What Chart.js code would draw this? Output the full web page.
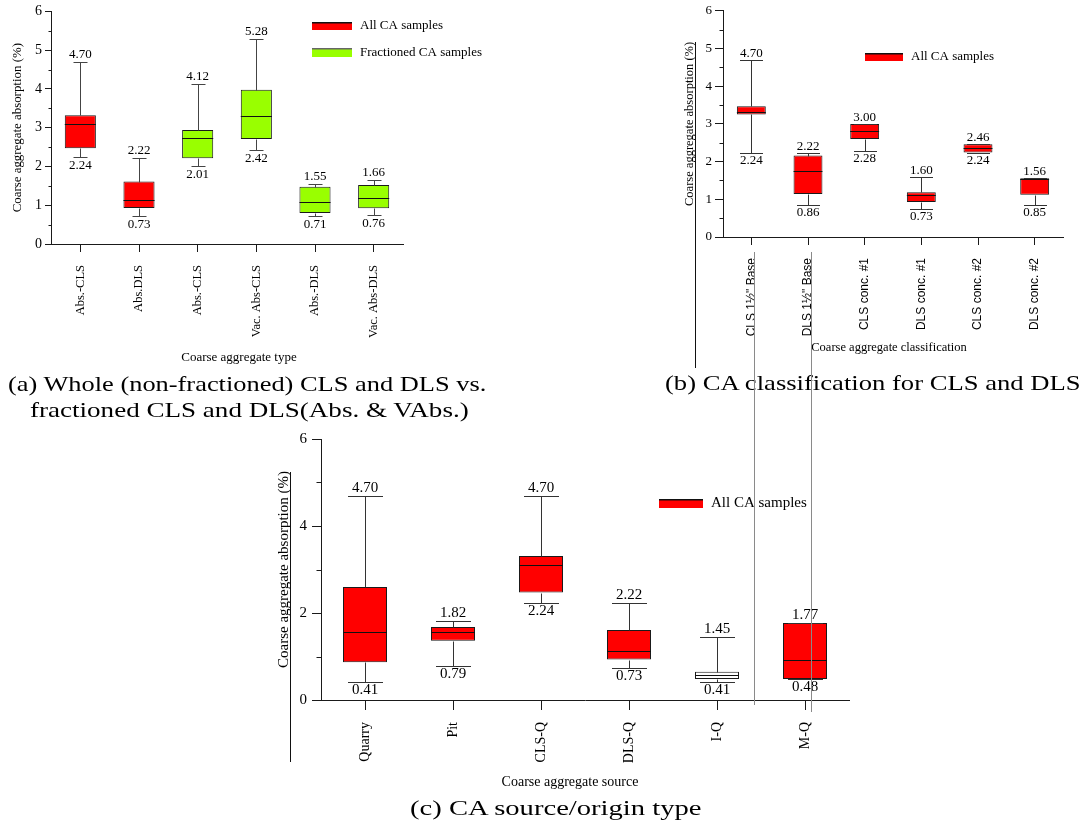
<!DOCTYPE html>
<html>
<head>
<meta charset="utf-8">
<script src="https://cdn.jsdelivr.net/npm/chart.js@4.4.1/dist/chart.umd.min.js"></script>
<style>
  html, body { margin: 0; padding: 0; background: #fff; }
  body { position: relative; width: 1086px; height: 824px; overflow: hidden;
         font-family: "Liberation Serif", "DejaVu Serif", serif; color: #000; }
  .panel { position: absolute; }
  .caption { position: absolute; font-size: 22px; line-height: 1; white-space: nowrap; transform-origin: 0 50%; }
  .rule { position: absolute; width: 1px; }
</style>
</head>
<body>
<canvas id="chartType" class="panel" width="520" height="372" style="left:0;top:0"></canvas>
<canvas id="chartClass" class="panel" width="426" height="372" style="left:660px;top:0"></canvas>
<canvas id="chartSource" class="panel" width="600" height="380" style="left:270px;top:425px"></canvas>

<div class="caption" style="left:8px;top:373px;transform:scaleX(1.2)">(a) Whole (non-fractioned) CLS and DLS vs.</div>
<div class="caption" style="left:30px;top:399px;transform:scaleX(1.23)">fractioned CLS and DLS(Abs. &amp; VAbs.)</div>
<div class="caption" style="left:665px;top:372px;transform:scaleX(1.21)">(b) CA classification for CLS and DLS</div>
<div class="caption" style="left:410px;top:797px;transform:scaleX(1.3)">(c) CA source/origin type</div>

<div class="rule" style="left:695px;top:42px;height:326px;background:#111"></div>
<div class="rule" style="left:290px;top:472px;height:290px;background:#111"></div>
<div class="rule" style="left:754px;top:252px;height:453px;background:#8a8a8a"></div>
<div class="rule" style="left:811px;top:252px;height:460px;background:#8a8a8a"></div>

<script>
// ---- (a) coarse aggregate type ----
const typeLabels = ['Abs.-CLS', 'Abs.DLS', 'Abs.-CLS', 'Vac. Abs-CLS', 'Abs.-DLS', 'Vac. Abs-DLS'];
const typeMin    = [2.24, 0.73, 2.01, 2.42, 0.71, 0.76];
const typeQ1     = [2.47, 0.93, 2.21, 2.71, 0.80, 0.92];
const typeMedian = [3.09, 1.13, 2.73, 3.30, 1.08, 1.19];
const typeQ3     = [3.32, 1.61, 2.94, 3.98, 1.48, 1.52];
const typeMax    = [4.70, 2.22, 4.12, 5.28, 1.55, 1.66];
const typeGroup  = ['All CA samples', 'All CA samples', 'Fractioned CA samples',
                    'Fractioned CA samples', 'Fractioned CA samples', 'Fractioned CA samples'];

// ---- (b) coarse aggregate classification ----
const classLabels = ['CLS 1½" Base', 'DLS 1½" Base', 'CLS conc. #1', 'DLS conc. #1', 'CLS conc. #2', 'DLS conc. #2'];
const classMin    = [2.24, 0.86, 2.28, 0.73, 2.24, 0.85];
const classQ1     = [3.25, 1.14, 2.60, 0.93, 2.24, 1.12];
const classMedian = [3.32, 1.76, 2.81, 1.12, 2.37, 1.55];
const classQ3     = [3.47, 2.16, 3.00, 1.19, 2.46, 1.56];
const classMax    = [4.70, 2.22, 3.00, 1.60, 2.46, 1.56];

// ---- (c) coarse aggregate source ----
const sourceLabels = ['Quarry', 'Pit', 'CLS-Q', 'DLS-Q', 'I-Q', 'M-Q'];
const sourceMin    = [0.41, 0.79, 2.24, 0.73, 0.41, 0.48];
const sourceQ1     = [0.87, 1.36, 2.47, 0.93, 0.48, 0.48];
const sourceMedian = [1.57, 1.56, 3.10, 1.13, 0.57, 0.93];
const sourceQ3     = [2.60, 1.68, 3.31, 1.61, 0.65, 1.77];
const sourceMax    = [4.70, 1.82, 4.70, 2.22, 1.45, 1.77];
const sourceFilled = [true, true, true, true, false, true];

const yTicks = [0, 1, 2, 3, 4, 5, 6];

const RED = '#ff0000';
const GREEN = '#99ff00';
const SERIF = '"Liberation Serif", "DejaVu Serif", serif';
const NARROW = '"Liberation Sans Narrow", "Liberation Sans", Arial, sans-serif';
const INK = '#1a1a1a';

// Whiskers, caps, median lines and min/max labels on top of the floating bars
function boxWhiskerPlugin(stats, style) {
  return {
    id: 'boxWhisker',
    afterDatasetsDraw(chart) {
      const ctx = chart.ctx;
      const yScale = chart.scales.y;
      const meta = chart.getDatasetMeta(0);
      const py = v => Math.round(yScale.getPixelForValue(v)) + 0.5;
      const seg = (x1, y1, x2, y2) => { ctx.beginPath(); ctx.moveTo(x1, y1); ctx.lineTo(x2, y2); ctx.stroke(); };
      ctx.save();
      ctx.lineWidth = 1;
      meta.data.forEach((bar, i) => {
        const xc = Math.round(bar.x) + 0.5;
        const hw = bar.width / 2;
        const cw = style.cap / 2;
        const yMax = py(stats.max[i]), yMin = py(stats.min[i]);
        ctx.strokeStyle = style.whisker;
        seg(xc, yMax, xc, py(stats.q3[i]));
        seg(xc, py(stats.q1[i]), xc, yMin);
        seg(xc - cw, yMax, xc + cw, yMax);
        seg(xc - cw, yMin, xc + cw, yMin);
        ctx.strokeStyle = style.median;
        seg(bar.x - hw, py(stats.median[i]), bar.x + hw, py(stats.median[i]));
        ctx.fillStyle = '#000';
        ctx.font = style.font;
        ctx.textAlign = 'center';
        ctx.textBaseline = 'middle';
        ctx.fillText(stats.max[i].toFixed(2), bar.x, yMax - style.gap);
        ctx.fillText(stats.min[i].toFixed(2), bar.x, yMin + style.gap);
      });
      ctx.restore();
    }
  };
}

// Short unlabelled ticks half way between the labelled ones
function minorTickPlugin(majorStep, len) {
  return {
    id: 'minorTicks',
    afterDraw(chart) {
      const ctx = chart.ctx, yScale = chart.scales.y;
      const x0 = Math.round(chart.chartArea.left) + 0.5;
      ctx.save();
      ctx.strokeStyle = INK;
      ctx.lineWidth = 1;
      for (let v = majorStep / 2; v < yScale.max; v += majorStep) {
        const y = Math.round(yScale.getPixelForValue(v)) + 0.5;
        ctx.beginPath(); ctx.moveTo(x0 - len, y); ctx.lineTo(x0, y); ctx.stroke();
      }
      ctx.restore();
    }
  };
}

// Axis titles and the in-plot legend
function panelTextPlugin(cfg) {
  return {
    id: 'panelText',
    afterDraw(chart) {
      const ctx = chart.ctx, area = chart.chartArea;
      ctx.save();
      ctx.fillStyle = '#000';
      ctx.textAlign = 'center';
      ctx.textBaseline = 'middle';
      ctx.font = cfg.xTitleFont;
      ctx.fillText(cfg.xTitle, cfg.xTitleX, cfg.xTitleY);
      ctx.save();
      ctx.font = cfg.yTitleFont;
      ctx.translate(cfg.yTitleX, (area.top + area.bottom) / 2);
      ctx.rotate(-Math.PI / 2);
      ctx.fillText(cfg.yTitle, 0, 0);
      ctx.restore();
      ctx.textAlign = 'left';
      ctx.font = cfg.legendFont;
      cfg.legend.forEach(item => {
        ctx.fillStyle = item.fill;
        ctx.fillRect(item.x, item.y, item.w, item.h);
        ctx.strokeStyle = item.line;
        ctx.lineWidth = 1.5;
        ctx.beginPath(); ctx.moveTo(item.x, item.y + 0.75); ctx.lineTo(item.x + item.w, item.y + 0.75); ctx.stroke();
        ctx.fillStyle = '#000';
        ctx.fillText(item.text, item.x + item.w + 8, item.y + item.h / 2);
      });
      ctx.restore();
    }
  };
}

function buildBoxChart(canvasId, p) {
  return new Chart(document.getElementById(canvasId), {
    type: 'bar',
    data: {
      labels: p.labels,
      datasets: [{
        data: p.q1.map((v, i) => [v, p.q3[i]]),
        backgroundColor: p.fills,
        borderColor: INK,
        borderWidth: 1,
        borderSkipped: false,
        barPercentage: p.barPct,
        categoryPercentage: 1
      }]
    },
    options: {
      responsive: false,
      devicePixelRatio: 1,
      animation: false,
      events: [],
      layout: { padding: { left: 0, top: p.area.top, right: p.size.w - p.area.right, bottom: 0 } },
      plugins: { legend: { display: false }, tooltip: { enabled: false }, title: { display: false } },
      scales: {
        x: {
          type: 'category',
          offset: true,
          border: { display: true, color: INK, width: 1 },
          grid: { display: true, offset: false, drawOnChartArea: false, drawTicks: true,
                  tickLength: p.xTickLen, color: INK },
          ticks: { autoSkip: false, minRotation: 90, maxRotation: 90, padding: p.xPad,
                   color: '#000', font: p.xFont },
          afterFit(scale) { scale.height = p.size.h - p.area.bottom; }
        },
        y: {
          min: 0, max: 6,
          border: { display: true, color: INK, width: 1 },
          grid: { display: true, drawOnChartArea: false, drawTicks: true, tickLength: p.yTickLen, color: INK },
          afterBuildTicks(scale) { scale.ticks = yTicks.filter(v => v % p.majorStep === 0).map(v => ({ value: v })); },
          ticks: { padding: p.yPad, color: '#000', font: p.yFont, callback: v => String(v) },
          afterFit(scale) { scale.width = p.area.left; }
        }
      }
    },
    plugins: [
      boxWhiskerPlugin(p.stats, p.boxStyle),
      minorTickPlugin(p.majorStep, p.minorLen),
      panelTextPlugin(p.text)
    ]
  });
}

// (a)
buildBoxChart('chartType', {
  size: { w: 520, h: 372 },
  area: { left: 51, top: 10, right: 403, bottom: 244 },
  labels: typeLabels,
  q1: typeQ1, q3: typeQ3,
  fills: typeGroup.map(g => g === 'All CA samples' ? RED : GREEN),
  barPct: 0.53,
  stats: { min: typeMin, q1: typeQ1, median: typeMedian, q3: typeQ3, max: typeMax },
  boxStyle: { cap: 14, whisker: '#444', median: '#111', font: '13px ' + SERIF, gap: 8 },
  majorStep: 1, minorLen: 3, yTickLen: 6, yPad: 3, yFont: { family: SERIF, size: 14 },
  xTickLen: 8, xPad: 13, xFont: { family: SERIF, size: 12.5 },
  text: {
    xTitleFont: '13px ' + SERIF, yTitleFont: '12.9px ' + SERIF, legendFont: '13px ' + SERIF,
    xTitle: 'Coarse aggregate type', xTitleX: 239, xTitleY: 358,
    yTitle: 'Coarse aggregate absorption (%)', yTitleX: 18,
    legend: [
      { x: 312, y: 22, w: 40, h: 8, fill: RED, line: '#111', text: 'All CA samples' },
      { x: 312, y: 48, w: 40, h: 9, fill: GREEN, line: '#666', text: 'Fractioned CA samples' }
    ]
  }
});

// (b)
buildBoxChart('chartClass', {
  size: { w: 426, h: 372 },
  area: { left: 63, top: 9, right: 403, bottom: 237 },
  labels: classLabels,
  q1: classQ1, q3: classQ3,
  fills: classLabels.map(() => RED),
  barPct: 0.51,
  stats: { min: classMin, q1: classQ1, median: classMedian, q3: classQ3, max: classMax },
  boxStyle: { cap: 23, whisker: '#333', median: '#111', font: '13px ' + SERIF, gap: 7 },
  majorStep: 1, minorLen: 4, yTickLen: 8, yPad: 3, yFont: { family: SERIF, size: 13 },
  xTickLen: 8, xPad: 13, xFont: { family: NARROW, size: 12 },
  text: {
    xTitleFont: '12.5px ' + SERIF, yTitleFont: '12.5px ' + SERIF, legendFont: '13px ' + SERIF,
    xTitle: 'Coarse aggregate classification', xTitleX: 229, xTitleY: 348,
    yTitle: 'Coarse aggregate absorption (%)', yTitleX: 30,
    legend: [
      { x: 205, y: 53, w: 38, h: 8, fill: RED, line: '#111', text: 'All CA samples' }
    ]
  }
});

// (c)
buildBoxChart('chartSource', {
  size: { w: 600, h: 380 },
  area: { left: 51, top: 10, right: 579, bottom: 275 },
  labels: sourceLabels,
  q1: sourceQ1, q3: sourceQ3,
  fills: sourceFilled.map(f => f ? RED : '#ffffff'),
  barPct: 0.5,
  stats: { min: sourceMin, q1: sourceQ1, median: sourceMedian, q3: sourceQ3, max: sourceMax },
  boxStyle: { cap: 35, whisker: '#333', median: '#111', font: '15px ' + SERIF, gap: 8 },
  majorStep: 2, minorLen: 5, yTickLen: 9, yPad: 5, yFont: { family: SERIF, size: 15 },
  xTickLen: 10, xPad: 12, xFont: { family: SERIF, size: 14 },
  text: {
    xTitleFont: '14px ' + SERIF, yTitleFont: '15px ' + SERIF, legendFont: '15px ' + SERIF,
    xTitle: 'Coarse aggregate source', xTitleX: 300, xTitleY: 357,
    yTitle: 'Coarse aggregate absorption (%)', yTitleX: 14,
    legend: [
      { x: 389, y: 74, w: 44, h: 9, fill: RED, line: '#111', text: 'All CA samples' }
    ]
  }
});
</script>
</body>
</html>
